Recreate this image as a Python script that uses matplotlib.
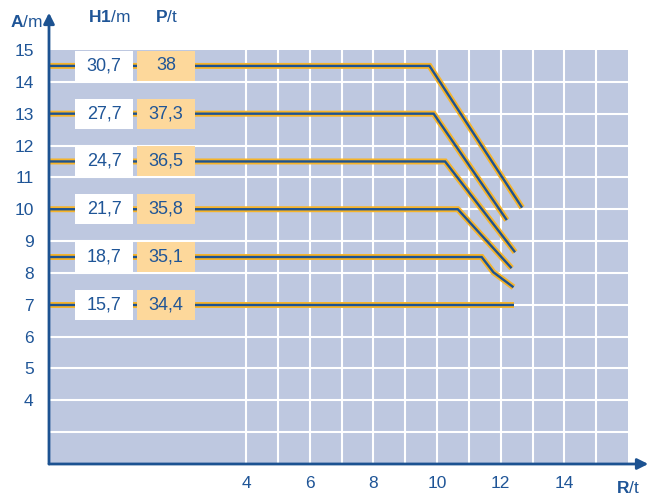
import matplotlib.pyplot as plt
from matplotlib.patches import Rectangle

plt.rcParams['font.family'] = ['Liberation Sans', 'DejaVu Sans']
plt.rcParams['mathtext.fontset'] = 'custom'
plt.rcParams['mathtext.rm'] = 'Liberation Sans'
plt.rcParams['mathtext.bf'] = 'Liberation Sans:bold'

# boom length / load table
A_levels = [14.5, 13, 11.5, 10, 8.5, 7]
H1_labels = ['30,7', '27,7', '24,7', '21,7', '18,7', '15,7']
P_labels = ['38', '37,3', '36,5', '35,8', '35,1', '34,4']

# load curves (R in t, A in m)
curve_R = [
    [-2.2, 9.76, 12.67],
    [-2.2, 9.89, 12.19],
    [-2.2, 10.25, 12.45],
    [-2.2, 10.65, 12.34],
    [-2.2, 11.4, 11.77, 12.4],
    [-2.2, 12.43],
]
curve_A = [
    [14.5, 14.5, 10.05],
    [13, 13, 9.66],
    [11.5, 11.5, 8.65],
    [10, 10, 8.15],
    [8.5, 8.5, 8.02, 7.55],
    [7, 7],
]

x_ticks = [4, 6, 8, 10, 12, 14]
y_ticks = [4, 5, 6, 7, 8, 9, 10, 11, 12, 13, 14, 15]

bg = '#bec8e0'
blue = '#1c5291'
txt = '#1f5597'
orange = '#f6b42a'
box_orange = '#fdd89b'
fs = 12.5

fig = plt.figure(figsize=(6.53, 4.99), dpi=100)
ax = fig.add_axes([49/653, 35/499, 579/653, 414/499])
ax.set_xlim(-2.2, 16)
ax.set_ylim(2, 15)
ax.set_facecolor(bg)
for s in ax.spines.values():
    s.set_visible(False)

# grid
for a in range(3, 15):
    ax.axhline(a, color='white', lw=1.5, zorder=1)
for r in range(4, 16):
    ax.axvline(r, color='white', lw=1.5, zorder=1)

# curves
for R, A in zip(curve_R, curve_A):
    ax.plot(R, A, color=orange, lw=4.3, solid_capstyle='butt', solid_joinstyle='miter', zorder=3)
    ax.plot(R, A, color=blue, lw=1.7, solid_capstyle='butt', solid_joinstyle='miter', zorder=4)

# table boxes
for a, h, p in zip(A_levels, H1_labels, P_labels):
    ax.add_patch(Rectangle((-1.38, a - 0.47), 1.82, 0.94, facecolor='white', edgecolor='none', zorder=5))
    ax.add_patch(Rectangle((0.57, a - 0.47), 1.82, 0.94, facecolor=box_orange, edgecolor='none', zorder=5))
    ax.text(-0.47, a, h, ha='center', va='center', fontsize=13, color=txt, zorder=6)
    ax.text(1.48, a, p, ha='center', va='center', fontsize=13, color=txt, zorder=6)

ax.set_xticks(x_ticks)
ax.set_yticks(y_ticks)
ax.tick_params(length=0, colors=txt, labelsize=fs, pad=9)
ax.tick_params(axis='y', pad=11)

# axes with arrows
ax.annotate('', xy=(1.035, 0), xytext=(0, 0), xycoords='axes fraction',
            arrowprops=dict(arrowstyle='-|>', color=blue, lw=2, mutation_scale=16, shrinkA=0, shrinkB=0))
ax.annotate('', xy=(0, 1.09), xytext=(0, 0), xycoords='axes fraction',
            arrowprops=dict(arrowstyle='-|>', color=blue, lw=2, mutation_scale=16, shrinkA=0, shrinkB=0))

ax.text(16, 1.5, r'$\mathbf{R}$/t', ha='center', va='top', fontsize=fs, color=txt)
ax.text(-0.3, 1.08, r'$\mathbf{H1}$/m', transform=ax.get_xaxis_transform(), ha='center', va='center',
        fontsize=fs, color=txt)
ax.text(1.48, 1.08, r'$\mathbf{P}$/t', transform=ax.get_xaxis_transform(), ha='center', va='center',
        fontsize=fs, color=txt)
ax.text(-0.011, 1.068, r'$\mathbf{A}$/m', transform=ax.transAxes, ha='right', va='center',
        fontsize=fs, color=txt)

fig.savefig('out.png', dpi=100)
